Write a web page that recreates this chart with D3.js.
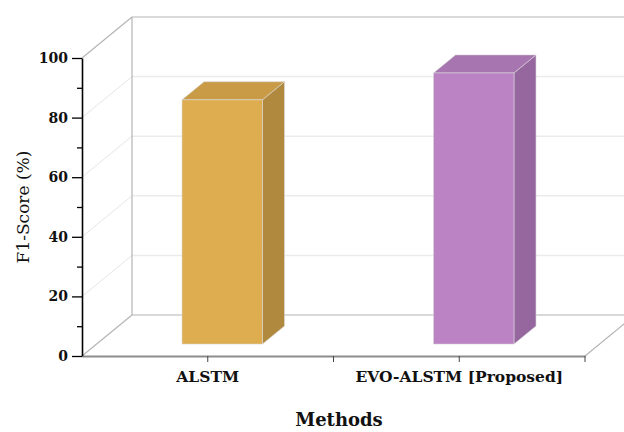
<!DOCTYPE html>
<html>
<head>
<meta charset="utf-8">
<script src="https://cdn.jsdelivr.net/npm/d3@7"></script>
<style>
  body { margin: 0; background: #fff; }
  svg { display: block; }
</style>
</head>
<body>
<div id="chart"></div>
<script>
// chart data
var methods = ["ALSTM", "EVO-ALSTM [Proposed]"];
var f1Scores = [82, 91];
var majorTicks = [0, 20, 40, 60, 80, 100];
var minorTicks = [10, 30, 50, 70, 90];
var frontColors = ["#dead50", "#bb82c4"];
var topColors = ["#c99b46", "#a775af"];
var sideColors = ["#b0893e", "#95679e"];

var width = 624, height = 432;
var svg = d3.select("#chart").append("svg")
  .attr("width", width).attr("height", height);

// 3d depth offset
var DX = 50, DY = -41;
var d0 = 0.29, d1 = 0.73;

var y = d3.scaleLinear().domain([0, 100]).range([356, 58]);
var x = d3.scaleBand().domain(methods).range([82, 585]);
var barW = x.bandwidth() * 0.32;

function pt(px, v, depth) {
  return [px + depth * DX, y(v) + depth * DY];
}
function poly(points) {
  return points.map(function (p) { return p.join(","); }).join(" ");
}

var xRight = x.range()[1];

// back wall gridlines
svg.selectAll(".grid-back")
  .data(majorTicks.slice(1, -1))
  .enter().append("line")
  .attr("x1", 82 + DX).attr("x2", xRight + DX)
  .attr("y1", function (d) { return y(d) + DY; })
  .attr("y2", function (d) { return y(d) + DY; })
  .style("stroke", "#ebebeb").style("stroke-width", 1.5);

// side wall gridlines
svg.selectAll(".grid-side")
  .data(majorTicks.slice(1, -1))
  .enter().append("line")
  .attr("x1", 82).attr("x2", 82 + DX)
  .attr("y1", function (d) { return y(d); })
  .attr("y2", function (d) { return y(d) + DY; })
  .style("stroke", "#e6e6e6").style("stroke-width", 1);

// back floor line
svg.append("line")
  .attr("x1", 82 + DX).attr("x2", xRight + DX)
  .attr("y1", y(0) + DY).attr("y2", y(0) + DY)
  .style("stroke", "#d9d9d9").style("stroke-width", 2);

// wall frame
var frame = [
  [[82, y(0)], [82 + DX, y(0) + DY]],
  [[82, y(100)], [82 + DX, y(100) + DY]],
  [[82 + DX, y(100) + DY], [82 + DX, y(0) + DY]],
  [[82 + DX, y(100) + DY], [xRight + DX, y(100) + DY]],
  [[xRight, y(0)], [xRight + DX, y(0) + DY]]
];
svg.selectAll(".frame")
  .data(frame)
  .enter().append("line")
  .attr("x1", function (d) { return d[0][0]; })
  .attr("y1", function (d) { return d[0][1]; })
  .attr("x2", function (d) { return d[1][0]; })
  .attr("y2", function (d) { return d[1][1]; })
  .style("stroke", "#b5b5b5").style("stroke-width", 1.2);

// bars
var bars = svg.selectAll(".bar")
  .data(methods.map(function (m, i) { return { name: m, value: f1Scores[i], i: i }; }))
  .enter().append("g").attr("class", "bar");

function xl(d) { return x(d.name) + x.bandwidth() / 2 - barW / 2; }
function xr(d) { return x(d.name) + x.bandwidth() / 2 + barW / 2; }

bars.append("polygon")
  .attr("points", function (d) {
    return poly([pt(xr(d), 0, d0), pt(xr(d), d.value, d0), pt(xr(d), d.value, d1), pt(xr(d), 0, d1)]);
  })
  .style("fill", function (d) { return sideColors[d.i]; })
  .style("stroke", "#d8d8d8").style("stroke-width", 0.6);

bars.append("polygon")
  .attr("points", function (d) {
    return poly([pt(xl(d), d.value, d0), pt(xr(d), d.value, d0), pt(xr(d), d.value, d1), pt(xl(d), d.value, d1)]);
  })
  .style("fill", function (d) { return topColors[d.i]; })
  .style("stroke", "#d8d8d8").style("stroke-width", 0.6);

bars.append("polygon")
  .attr("points", function (d) {
    return poly([pt(xl(d), 0, d0), pt(xr(d), 0, d0), pt(xr(d), d.value, d0), pt(xl(d), d.value, d0)]);
  })
  .style("fill", function (d) { return frontColors[d.i]; })
  .style("stroke", "#d8d8d8").style("stroke-width", 0.6);

// x axis (front floor edge)
var xAxis = svg.append("g")
  .attr("transform", "translate(0," + y(0) + ")")
  .call(d3.axisBottom(x).tickSize(6).tickSizeOuter(0).tickPadding(9));
xAxis.select(".domain").style("stroke", "#8c8c8c").style("stroke-width", 2);
xAxis.selectAll(".tick line").style("stroke", "#444");
xAxis.selectAll(".tick text")
  .style("font-family", "'DejaVu Serif', serif")
  .style("font-weight", "bold").style("font-size", "15.5px").style("fill", "#111");

// separator ticks between categories
var seps = [x.range()[0] + x.step(), xRight];
svg.selectAll(".sep")
  .data(seps)
  .enter().append("line")
  .attr("x1", function (d) { return d; }).attr("x2", function (d) { return d; })
  .attr("y1", y(0)).attr("y2", y(0) + 6)
  .style("stroke", "#444");

// y axis
var yMinor = svg.append("g")
  .attr("transform", "translate(82,0)")
  .call(d3.axisLeft(y).tickValues(minorTicks).tickSize(5).tickFormat(""));
yMinor.select(".domain").remove();
yMinor.selectAll(".tick line").style("stroke", "#000").style("stroke-width", 1.3);

var yAxis = svg.append("g")
  .attr("transform", "translate(82,0)")
  .call(d3.axisLeft(y).tickValues(majorTicks).tickSize(10).tickSizeOuter(0).tickPadding(4));
yAxis.select(".domain").style("stroke", "#000").style("stroke-width", 1.6);
yAxis.selectAll(".tick line").style("stroke", "#000").style("stroke-width", 1.3);
yAxis.selectAll(".tick text")
  .style("font-family", "'DejaVu Serif', serif")
  .style("font-weight", "bold").style("font-size", "14px").style("fill", "#111");

// axis titles
svg.append("text")
  .attr("transform", "translate(29," + (y(50)) + ") rotate(-90)")
  .attr("text-anchor", "middle")
  .style("font-family", "'DejaVu Serif', serif")
  .style("font-size", "17px").style("fill", "#111")
  .text("F1-Score (%)");

svg.append("text")
  .attr("x", 339).attr("y", 426)
  .attr("text-anchor", "middle")
  .style("font-family", "'DejaVu Serif', serif")
  .style("font-weight", "bold").style("font-size", "18px").style("fill", "#111")
  .text("Methods");
</script>
</body>
</html>
